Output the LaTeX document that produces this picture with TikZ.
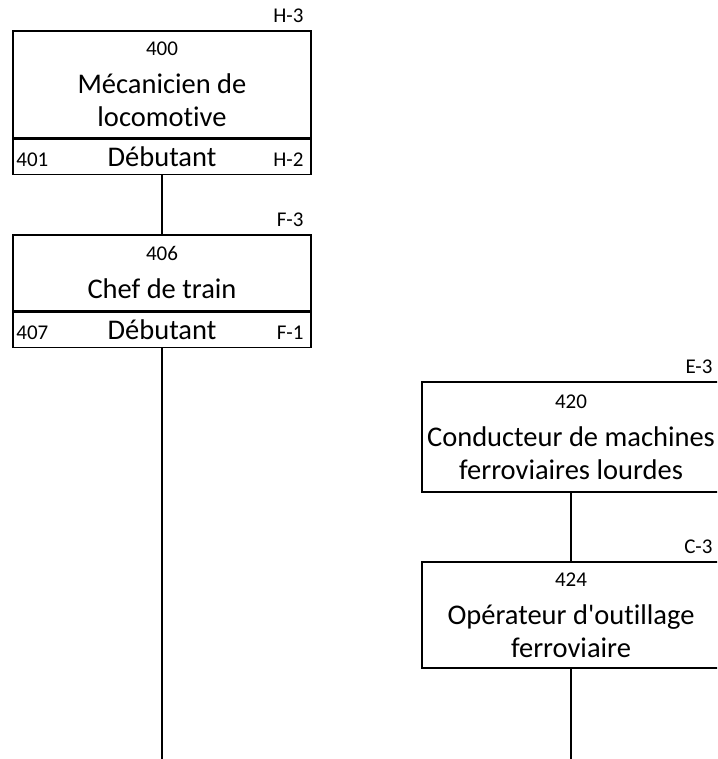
\documentclass[tikz,border=0pt]{standalone}
\usepackage{fontspec}
\setmainfont[Ligatures=NoCommon]{Carlito}
\newcommand{\codefont}{\fontsize{21}{24}\selectfont}
\begin{document}
\begin{tikzpicture}[x=1pt,y=-1pt,
    jobbox/.style={draw,line width=1.5pt,minimum width=298pt,inner sep=0pt,align=center,font=\fontsize{28.5}{33}\selectfont},
    footbox/.style={draw,line width=1.5pt,minimum width=298pt,minimum height=35pt,inner sep=0pt,font=\fontsize{28.5}{33}\selectfont},
    code/.style={inner sep=3pt,font=\codefont},
    link/.style={line width=1.2pt}]
  \useasboundingbox (0,0) rectangle (717,759);
  \clip (0,0) rectangle (717,759);
  % left column
  \node[jobbox,minimum height=107pt] (mec) at (162,84.5) {{\codefont 400}\\[5pt]Mécanicien de\\locomotive};
  \node[footbox,anchor=north] (mecdeb) at (mec.south) {Débutant};
  \node[code,anchor=south east] (mech3) at ([xshift=-5pt,yshift=4pt]mec.north east) {H-3};
  \node[code,anchor=base west] (mec401) at ([xshift=1pt]mecdeb.base west) {401};
  \node[code,anchor=base east] (mech2) at ([xshift=-5pt]mecdeb.base east) {H-2};

  \node[jobbox,minimum height=76pt] (chef) at (162,273) {{\codefont 406}\\[5pt]Chef de train};
  \node[footbox,anchor=north] (chefdeb) at (chef.south) {Débutant};
  \node[code,anchor=south east] (cheff3) at ([xshift=-5pt,yshift=4pt]chef.north east) {F-3};
  \node[code,anchor=base west] (chef407) at ([xshift=1pt]chefdeb.base west) {407};
  \node[code,anchor=base east] (cheff1) at ([xshift=-5pt]chefdeb.base east) {F-1};
  \coordinate (chefend) at (162,765);

  \draw[link] (mecdeb) -- (chef);
  \draw[link] (chefdeb) -- (chefend);

  % right column
  \node[jobbox,minimum height=110pt] (cond) at (571,437) {{\codefont 420}\\[5pt]Conducteur de machines\\ferroviaires lourdes};
  \node[code,anchor=south east] (conde3) at ([xshift=-5pt,yshift=4pt]cond.north east) {E-3};

  \node[jobbox,minimum height=106pt] (oper) at (571,615) {{\codefont 424}\\[5pt]Opérateur d\textquotesingle outillage\\ferroviaire};
  \node[code,anchor=south east] (operc3) at ([xshift=-5pt,yshift=4pt]oper.north east) {C-3};
  \coordinate (operend) at (571,765);

  \draw[link] (cond) -- (oper);
  \draw[link] (oper) -- (operend);
\end{tikzpicture}
\end{document}
